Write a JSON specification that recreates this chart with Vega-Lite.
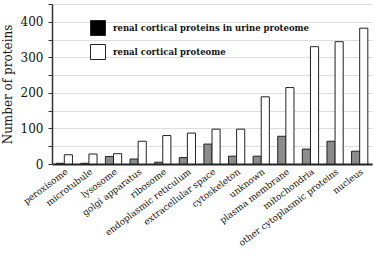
{
  "$schema": "https://vega.github.io/schema/vega-lite/v6.json",
  "width": 320,
  "height": 160,
  "autosize": {"type": "none"},
  "padding": {"left": 52, "top": 4, "right": 2, "bottom": 93},
  "background": "white",
  "config": {
    "font": "DejaVu Serif",
    "view": {"stroke": null}
  },
  "data": {
    "values": [
      {"location": "peroxisome", "series": "renal cortical proteins in urine proteome", "proteins": 2},
      {"location": "peroxisome", "series": "renal cortical proteome", "proteins": 26},
      {"location": "microtubule", "series": "renal cortical proteins in urine proteome", "proteins": 2},
      {"location": "microtubule", "series": "renal cortical proteome", "proteins": 28},
      {"location": "lysosome", "series": "renal cortical proteins in urine proteome", "proteins": 21},
      {"location": "lysosome", "series": "renal cortical proteome", "proteins": 29},
      {"location": "golgi apparatus", "series": "renal cortical proteins in urine proteome", "proteins": 14},
      {"location": "golgi apparatus", "series": "renal cortical proteome", "proteins": 64},
      {"location": "ribosome", "series": "renal cortical proteins in urine proteome", "proteins": 5},
      {"location": "ribosome", "series": "renal cortical proteome", "proteins": 80},
      {"location": "endoplasmic reticulum", "series": "renal cortical proteins in urine proteome", "proteins": 18},
      {"location": "endoplasmic reticulum", "series": "renal cortical proteome", "proteins": 87},
      {"location": "extracellular space", "series": "renal cortical proteins in urine proteome", "proteins": 56},
      {"location": "extracellular space", "series": "renal cortical proteome", "proteins": 98},
      {"location": "cytoskeleton", "series": "renal cortical proteins in urine proteome", "proteins": 22},
      {"location": "cytoskeleton", "series": "renal cortical proteome", "proteins": 98},
      {"location": "unknown", "series": "renal cortical proteins in urine proteome", "proteins": 22},
      {"location": "unknown", "series": "renal cortical proteome", "proteins": 189},
      {"location": "plasma membrane", "series": "renal cortical proteins in urine proteome", "proteins": 78},
      {"location": "plasma membrane", "series": "renal cortical proteome", "proteins": 215},
      {"location": "mitochondria", "series": "renal cortical proteins in urine proteome", "proteins": 42},
      {"location": "mitochondria", "series": "renal cortical proteome", "proteins": 330},
      {"location": "other cytoplasmic proteins", "series": "renal cortical proteins in urine proteome", "proteins": 64},
      {"location": "other cytoplasmic proteins", "series": "renal cortical proteome", "proteins": 344},
      {"location": "nucleus", "series": "renal cortical proteins in urine proteome", "proteins": 36},
      {"location": "nucleus", "series": "renal cortical proteome", "proteins": 382}
    ]
  },
  "encoding": {
    "x": {
      "field": "location",
      "type": "nominal",
      "sort": null,
      "scale": {"paddingInner": 0.34, "paddingOuter": 0.17},
      "axis": {
        "title": null,
        "labelAngle": -37,
        "labelAlign": "right",
        "labelBaseline": "top",
        "labelFontSize": 9,
        "labelColor": "#111111",
        "labelPadding": 3,
        "ticks": false,
        "domainColor": "#222222",
        "domainWidth": 2
      }
    },
    "xOffset": {
      "field": "series",
      "type": "nominal",
      "sort": ["renal cortical proteins in urine proteome", "renal cortical proteome"],
      "scale": {"paddingInner": 0}
    },
    "y": {
      "field": "proteins",
      "type": "quantitative",
      "scale": {"domain": [0, 450], "nice": false},
      "axis": {
        "title": "Number of proteins",
        "titleFontSize": 12,
        "titleFontWeight": "normal",
        "titleColor": "#111111",
        "titlePadding": 6,
        "values": [0, 50, 100, 150, 200, 250, 300, 350, 400, 450],
        "labelExpr": "datum.value % 100 === 0 ? datum.label : ''",
        "labelFontSize": 12,
        "labelColor": "#111111",
        "labelPadding": 5,
        "tickSize": 4,
        "tickColor": "#333333",
        "domainColor": "#333333",
        "domainWidth": 1.5,
        "gridColor": "#dddddd",
        "gridWidth": 1
      }
    }
  },
  "layer": [
    {
      "mark": {"type": "bar", "fill": "#ffffff", "strokeWidth": 0}
    },
    {
      "mark": {"type": "bar", "stroke": "#222222", "strokeWidth": 1},
      "encoding": {
        "fill": {
          "field": "series",
          "type": "nominal",
          "sort": ["renal cortical proteins in urine proteome", "renal cortical proteome"],
          "scale": {"range": ["#000000", "#ffffff"]},
          "legend": {
            "title": null,
            "orient": "none",
            "legendX": 38,
            "legendY": 16,
            "symbolType": "square",
            "symbolSize": 225,
            "symbolStrokeColor": "#222222",
            "symbolStrokeWidth": 1,
            "labelFontSize": 8.5,
            "labelFontWeight": "bold",
            "labelColor": "#111111",
            "labelLimit": 300,
            "labelOffset": 7,
            "rowPadding": 4,
            "encode": {
              "symbols": {
                "update": {
                  "stroke": {"value": "#222222"},
                  "strokeWidth": {"value": 1},
                  "opacity": {"value": 1}
                }
              }
            }
          }
        },
        "fillOpacity": {
          "condition": {"test": "datum.series === 'renal cortical proteins in urine proteome'", "value": 0.45},
          "value": 1
        }
      }
    }
  ]
}
